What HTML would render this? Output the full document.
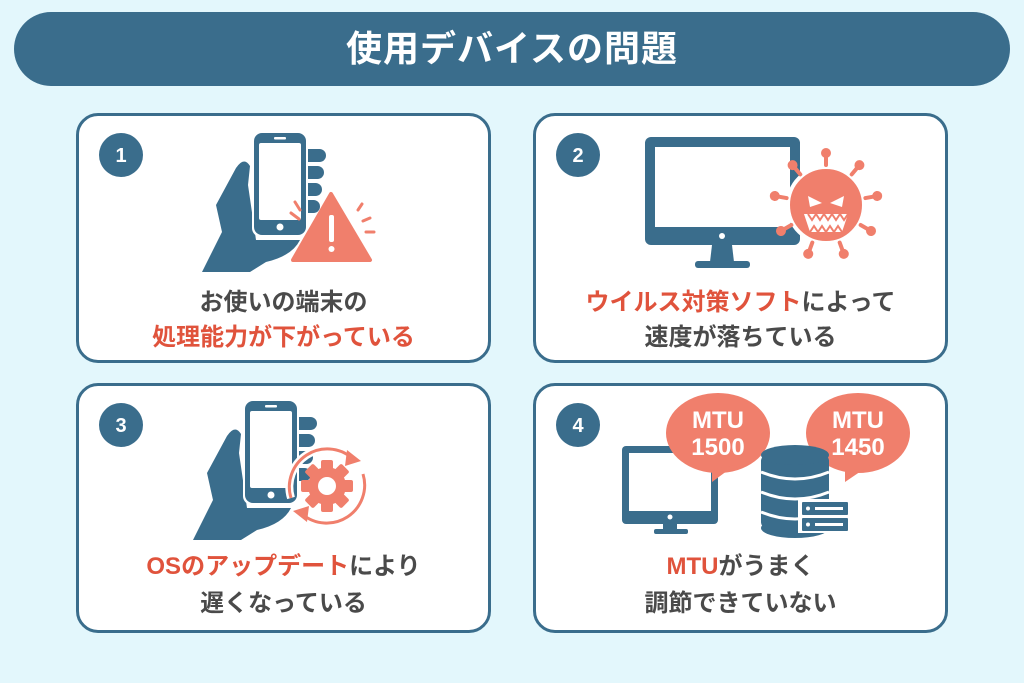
<!DOCTYPE html>
<html><head><meta charset="utf-8"><style>
body{margin:0;width:1024px;height:683px;background:#e3f7fc;position:relative;overflow:hidden;font-family:"Liberation Sans","Noto Sans CJK JP",sans-serif}
.title{position:absolute;left:14px;top:12px;width:996px;height:74px;border-radius:37px;background:#3a6d8c;color:#fff;font-size:36px;font-weight:bold;text-align:center;line-height:74px;letter-spacing:1px}
.card{position:absolute;width:415px;height:250px;background:#fff;border:3px solid #3a6d8c;border-radius:22px;box-sizing:border-box}
.t{position:absolute;width:100%;text-align:center;font-size:24px;font-weight:bold;color:#4a4a4a;line-height:35px}
.r{color:#e0533c}
svg{position:absolute;left:0;top:0}
</style></head><body>
<div class="title">使用デバイスの問題</div>
<div class="card" style="left:76px;top:113px"><div class="t" style="top:169px">お使いの端末の<br><span class="r">処理能力が下がっている</span></div></div>
<div class="card" style="left:533px;top:113px"><div class="t" style="top:169px"><span class="r">ウイルス対策ソフト</span>によって<br>速度が落ちている</div></div>
<div class="card" style="left:76px;top:383px"><div class="t" style="top:162px;line-height:37px"><span class="r">OSのアップデート</span>により<br>遅くなっている</div></div>
<div class="card" style="left:533px;top:383px"><div class="t" style="top:162px;line-height:37px"><span class="r">MTU</span>がうまく<br>調節できていない</div></div>
<svg width="1024" height="683" viewBox="0 0 1024 683">
<defs>
<g id="hand">
<path d="M202,272 L222,232 L216,205 L236,168 Q244,156 250,166 L248,185 L256,240 L300,240 Q292,256 266,262 L250,272 Z" fill="#3a6d8c"/>
<rect x="296" y="149" width="30" height="13" rx="6.5" fill="#3a6d8c"/>
<rect x="296" y="166" width="28" height="13" rx="6.5" fill="#3a6d8c"/>
<rect x="296" y="183" width="26" height="13" rx="6.5" fill="#3a6d8c"/>
<rect x="296" y="200" width="24" height="13" rx="6.5" fill="#3a6d8c"/>
<rect x="252" y="131" width="56" height="106" rx="9" fill="#fff"/>
<rect x="254" y="133" width="52" height="102" rx="8" fill="#3a6d8c"/>
<rect x="259" y="143" width="42" height="77" rx="2" fill="#fff"/>
<rect x="274" y="137" width="12" height="2.5" rx="1" fill="#fff"/>
<circle cx="280" cy="227" r="3.5" fill="#fff"/>
</g>
</defs>
<g font-family="Liberation Sans,sans-serif" font-weight="bold" font-size="20" fill="#fff" text-anchor="middle">
<circle cx="121" cy="155" r="22" fill="#3a6d8c"/><text x="121" y="162">1</text>
<circle cx="578" cy="155" r="22" fill="#3a6d8c"/><text x="578" y="162">2</text>
<circle cx="121" cy="425" r="22" fill="#3a6d8c"/><text x="121" y="432">3</text>
<circle cx="578" cy="425" r="22" fill="#3a6d8c"/><text x="578" y="432">4</text>
</g>
<use href="#hand"/>
<path d="M331,194 L370,260 L293,260 Z" fill="#f07f6c" stroke="#f07f6c" stroke-width="4" stroke-linejoin="round"/>
<rect x="329" y="215" width="5" height="27" rx="2" fill="#fff"/><circle cx="331.5" cy="249" r="3" fill="#fff"/>
<g stroke="#f07f6c" stroke-width="3" stroke-linecap="round"><line x1="358" y1="210" x2="362" y2="204"/><line x1="363" y1="221" x2="370" y2="218"/><line x1="366" y1="232" x2="374" y2="232"/><line x1="291" y1="213" x2="299" y2="219"/><line x1="295" y1="202" x2="300" y2="210"/></g>
<rect x="645" y="137" width="155" height="108" rx="6" fill="#3a6d8c"/>
<rect x="655" y="147" width="135" height="80" fill="#fff"/>
<circle cx="722" cy="236" r="3" fill="#fff"/>
<path d="M712,245 L732,245 L734,262 L710,262 Z" fill="#3a6d8c"/><rect x="695" y="261" width="55" height="7" rx="3" fill="#3a6d8c"/>
<g fill="#f07f6c" stroke="#f07f6c" stroke-width="4" stroke-linecap="round">
<circle cx="826" cy="205" r="38" stroke="#fff" stroke-width="4"/>
<g transform="translate(826 205)">
<line x1="0" y1="-40" x2="0" y2="-50"/><circle cx="0" cy="-52" r="3"/>
<g transform="rotate(40)"><line x1="0" y1="-40" x2="0" y2="-50"/><circle cx="0" cy="-52" r="3"/></g>
<g transform="rotate(80)"><line x1="0" y1="-40" x2="0" y2="-50"/><circle cx="0" cy="-52" r="3"/></g>
<g transform="rotate(120)"><line x1="0" y1="-40" x2="0" y2="-50"/><circle cx="0" cy="-52" r="3"/></g>
<g transform="rotate(160)"><line x1="0" y1="-40" x2="0" y2="-50"/><circle cx="0" cy="-52" r="3"/></g>
<g transform="rotate(200)"><line x1="0" y1="-40" x2="0" y2="-50"/><circle cx="0" cy="-52" r="3"/></g>
<g transform="rotate(240)"><line x1="0" y1="-40" x2="0" y2="-50"/><circle cx="0" cy="-52" r="3"/></g>
<g transform="rotate(280)"><line x1="0" y1="-40" x2="0" y2="-50"/><circle cx="0" cy="-52" r="3"/></g>
<g transform="rotate(320)"><line x1="0" y1="-40" x2="0" y2="-50"/><circle cx="0" cy="-52" r="3"/></g>
</g></g>
<path d="M808,196 L822,203 L810,207 Z M844,196 L830,203 L842,207 Z" fill="#fff"/>
<path d="M804,214 L848,214 L842,232 L810,232 Z" fill="#fff"/>
<path d="M808,214 l4,6 l4,-6 l4,6 l4,-6 l4,6 l4,-6 l4,6 l4,-6 l4,6 l4,-6 M810,232 l4,-6 l4,6 l4,-6 l4,6 l4,-6 l4,6 l4,-6 l4,6" stroke="#f07f6c" stroke-width="2" fill="none"/>
<g transform="translate(-9 268)"><use href="#hand"/></g>
<g transform="translate(327 486)">
<g fill="#f07f6c"><circle r="19"/>
<rect x="-6" y="-26" width="12" height="52" rx="2"/>
<rect x="-6" y="-26" width="12" height="52" rx="2" transform="rotate(45)"/>
<rect x="-6" y="-26" width="12" height="52" rx="2" transform="rotate(90)"/>
<rect x="-6" y="-26" width="12" height="52" rx="2" transform="rotate(135)"/></g>
<circle r="9" fill="#fff"/>
<path d="M-36,12 A38,38 0 0 1 25,-28" stroke="#fff" stroke-width="8" fill="none"/>
<path d="M-36,12 A38,38 0 0 1 25,-28" stroke="#f07f6c" stroke-width="3" fill="none"/>
<path d="M36,-12 A38,38 0 0 1 -25,28" stroke="#f07f6c" stroke-width="3" fill="none"/>
<path d="M20,-36 L34,-25 L18,-20 Z M-20,36 L-34,25 L-18,20 Z" fill="#f07f6c"/>
</g>
<rect x="622" y="446" width="96" height="78" rx="4" fill="#3a6d8c"/>
<rect x="629" y="453" width="82" height="58" fill="#fff"/>
<circle cx="670" cy="517" r="2.5" fill="#fff"/>
<rect x="663" y="524" width="14" height="7" fill="#3a6d8c"/><rect x="654" y="529" width="34" height="5" rx="2" fill="#3a6d8c"/>
<ellipse cx="718" cy="433" rx="52" ry="40" fill="#f07f6c"/><path d="M712,470 L712,482 L735,465 Z" fill="#f07f6c"/>
<ellipse cx="858" cy="433" rx="52" ry="40" fill="#f07f6c"/><path d="M845,470 L845,482 L870,465 Z" fill="#f07f6c"/>
<g fill="#fff" font-family="Liberation Sans,DejaVu Sans,sans-serif" font-weight="bold" font-size="24" text-anchor="middle">
<text x="718" y="428">MTU</text><text x="718" y="455">1500</text>
<text x="858" y="428">MTU</text><text x="858" y="455">1450</text></g>
<g fill="#3a6d8c">
<rect x="761" y="455" width="68" height="73" rx="6"/>
<ellipse cx="795" cy="455" rx="34" ry="10"/>
<ellipse cx="795" cy="528" rx="34" ry="10"/>
</g>
<g fill="none" stroke="#fff" stroke-width="3">
<path d="M761,472 Q795,486 829,472"/><path d="M761,492 Q795,506 829,492"/><path d="M761,512 Q795,526 829,512"/></g>
<rect x="798" y="499" width="52" height="34" fill="#fff"/>
<rect x="802" y="502" width="46" height="13" rx="1" fill="#3a6d8c"/>
<rect x="802" y="518" width="46" height="13" rx="1" fill="#3a6d8c"/>
<g fill="#fff"><circle cx="808" cy="508.5" r="2"/><circle cx="808" cy="524.5" r="2"/>
<rect x="815" y="507" width="28" height="3"/><rect x="815" y="523" width="28" height="3"/></g>
</svg>
</body></html>
